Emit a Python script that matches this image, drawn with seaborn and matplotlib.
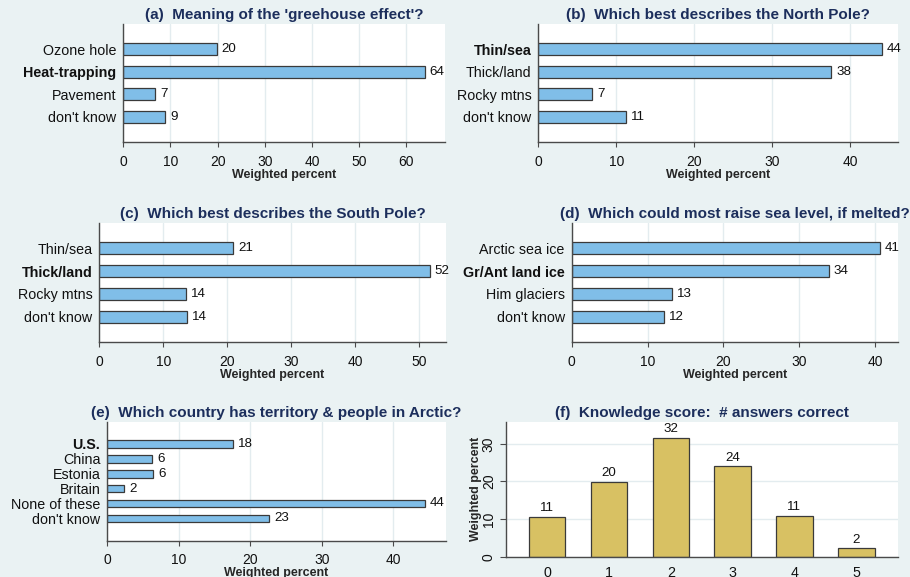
import matplotlib
matplotlib.use("Agg")
import matplotlib.pyplot as plt
import pandas as pd
import seaborn as sns

# ---- survey results, weighted percent ----
greenhouse_labels = ["Ozone hole", "Heat-trapping", "Pavement", "don't know"]
greenhouse_pct = [19.8, 63.9, 6.8, 8.9]

northpole_labels = ["Thin/sea", "Thick/land", "Rocky mtns", "don't know"]
northpole_pct = [44.1, 37.6, 6.9, 11.3]

southpole_labels = ["Thin/sea", "Thick/land", "Rocky mtns", "don't know"]
southpole_pct = [20.9, 51.6, 13.6, 13.7]

sealevel_labels = ["Arctic sea ice", "Gr/Ant land ice", "Him glaciers", "don't know"]
sealevel_pct = [40.6, 33.9, 13.2, 12.2]

arctic_labels = ["U.S.", "China", "Estonia", "Britain", "None of these", "don't know"]
arctic_pct = [17.6, 6.3, 6.4, 2.4, 44.4, 22.6]

score_labels = ["0", "1", "2", "3", "4", "5"]
score_pct = [10.6, 19.9, 31.6, 24.0, 10.8, 2.2]

# correct answer of each question, shown in bold
correct_answers = ["Heat-trapping", "Thin/sea", "Thick/land", "Gr/Ant land ice", "U.S."]

titles = [
    "(a)  Meaning of the 'greehouse effect'?",
    "(b)  Which best describes the North Pole?",
    "(c)  Which best describes the South Pole?",
    "(d)  Which could most raise sea level, if melted?",
    "(e)  Which country has territory & people in Arctic?",
    "(f)  Knowledge score:  # answers correct",
]

# ---- style ----
BG = "#EAF2F3"
GRID = "#E3ECEF"
BAR_BLUE = "#80BEE8"
BAR_KHAKI = "#D8C163"
EDGE = "#3A3A3A"
AXIS = "#4A4A4A"
TITLE = "#1C2E5C"

sns.set_theme(style="white")
plt.rcParams["font.family"] = ["Liberation Sans", "DejaVu Sans"]
plt.rcParams["text.color"] = "#111111"
plt.rcParams["xtick.color"] = AXIS
plt.rcParams["ytick.color"] = AXIS
plt.rcParams["xtick.labelcolor"] = "#111111"
plt.rcParams["ytick.labelcolor"] = "#111111"

W, H = 910, 577
fig = plt.figure(figsize=(W / 100, H / 100), dpi=100, facecolor=BG)


def place(left, top, right, bottom):
    return fig.add_axes([left / W, 1 - bottom / H, (right - left) / W, (bottom - top) / H])


def style_axes(ax):
    ax.set_facecolor("white")
    for side in ("top", "right"):
        ax.spines[side].set_visible(False)
    for side in ("left", "bottom"):
        ax.spines[side].set_color(AXIS)
        ax.spines[side].set_linewidth(1.0)
    ax.set_axisbelow(True)


def hbar_panel(ax, labels, values, title, xmax, xticks, answer, margin=1.11, width=0.53):
    df = pd.DataFrame({"answer": labels, "pct": values})
    sns.barplot(data=df, x="pct", y="answer", orient="h", order=labels,
                color=BAR_BLUE, saturation=1, edgecolor=EDGE, linewidth=0.9,
                width=width, ax=ax)
    style_axes(ax)
    n = len(labels)
    ax.set_ylim(n - 1 + margin, -margin)
    ax.set_xlim(0, xmax)
    ax.set_xticks(xticks)
    ax.xaxis.grid(True, color=GRID, linewidth=1.0)
    ax.yaxis.grid(False)
    ax.tick_params(axis="x", length=3.8, width=0.8, pad=5.5, labelsize=10, bottom=True)
    ax.tick_params(axis="y", length=0, pad=5, labelsize=10.3)
    for lab in ax.get_yticklabels():
        if lab.get_text() == answer:
            lab.set_fontweight("bold")
    ax.bar_label(ax.containers[0], fmt="%.0f", padding=3.6, fontsize=9.6)
    ax.set_ylabel("")
    ax.set_xlabel("Weighted percent", fontsize=9, fontweight="bold", labelpad=0)
    ax.set_title(title, fontsize=11, fontweight="bold", color=TITLE, pad=3.6)


ax_a = place(123.3, 24, 445, 142)
hbar_panel(ax_a, greenhouse_labels, greenhouse_pct, titles[0], 68.2,
           [0, 10, 20, 30, 40, 50, 60], correct_answers[0])

ax_b = place(538.3, 24, 897.7, 142)
hbar_panel(ax_b, northpole_labels, northpole_pct, titles[1], 46.1,
           [0, 10, 20, 30, 40], correct_answers[1])

ax_c = place(99.3, 223.3, 445.7, 341.7)
hbar_panel(ax_c, southpole_labels, southpole_pct, titles[2], 54.1,
           [0, 10, 20, 30, 40, 50], correct_answers[2])

ax_d = place(571.7, 223.3, 897.7, 341.7)
hbar_panel(ax_d, sealevel_labels, sealevel_pct, titles[3], 43.0,
           [0, 10, 20, 30, 40], correct_answers[3])

ax_e = place(107.3, 421.7, 445.7, 540.5)
hbar_panel(ax_e, arctic_labels, arctic_pct, titles[4], 47.3,
           [0, 10, 20, 30, 40], correct_answers[4], margin=1.48, width=0.52)

# ---- knowledge score histogram ----
ax_f = place(505.7, 421.7, 897.7, 556.7)
score_df = pd.DataFrame({"score": score_labels, "pct": score_pct})
sns.barplot(data=score_df, x="score", y="pct", order=score_labels,
            color=BAR_KHAKI, saturation=1, edgecolor=EDGE, linewidth=0.9,
            width=0.59, ax=ax_f)
style_axes(ax_f)
ax_f.set_xlim(-0.67, 5.67)
ax_f.set_ylim(0, 35.9)
ax_f.set_yticks([0, 10, 20, 30])
ax_f.yaxis.grid(True, color=GRID, linewidth=1.0)
ax_f.xaxis.grid(False)
ax_f.tick_params(axis="x", length=0, pad=7, labelsize=10.3)
ax_f.tick_params(axis="y", length=4.6, width=0.8, pad=2.5, labelsize=10, left=True,
                 labelrotation=90)
for lab in ax_f.get_yticklabels():
    lab.set_va("center")
ax_f.bar_label(ax_f.containers[0], fmt="%.0f", padding=2, fontsize=9.6)
ax_f.set_xlabel("")
ax_f.set_ylabel("Weighted percent", fontsize=9, fontweight="bold", labelpad=0)
ax_f.set_title(titles[5], fontsize=11, fontweight="bold", color=TITLE, pad=3.6)

fig.savefig("out.png", dpi=100, facecolor=BG)
